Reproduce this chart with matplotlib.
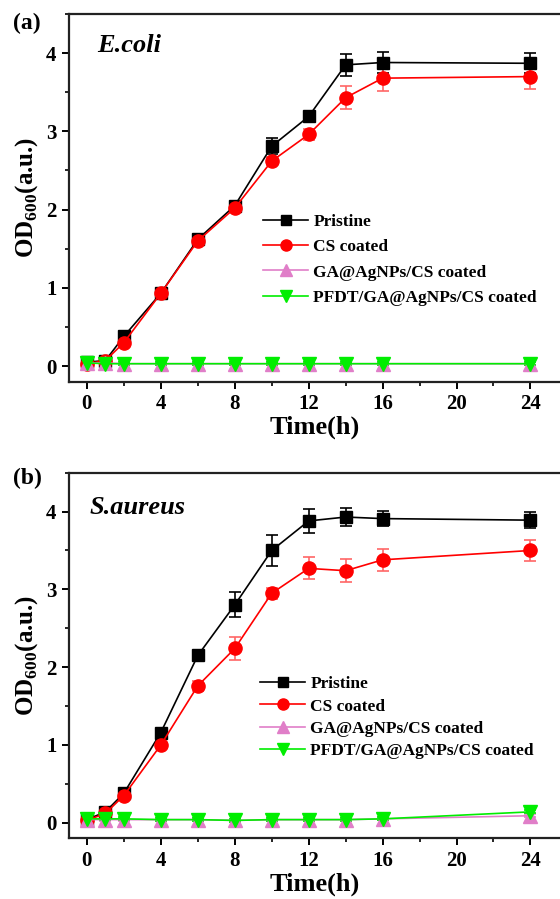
import matplotlib
matplotlib.use("Agg")
import matplotlib.pyplot as plt
from matplotlib.ticker import MultipleLocator
from matplotlib.lines import Line2D

plt.rcParams['font.family'] = ['Liberation Serif', 'DejaVu Serif']
plt.rcParams['font.weight'] = 'bold'
plt.rcParams['mathtext.fontset'] = 'custom'
plt.rcParams['mathtext.rm'] = 'Liberation Serif:bold'
plt.rcParams['mathtext.bf'] = 'Liberation Serif:bold'

time = [0, 1, 2, 4, 6, 8, 10, 12, 14, 16, 24]
labels = ["Pristine", "CS coated", "GA@AgNPs/CS coated", "PFDT/GA@AgNPs/CS coated"]

# Panel (a) E.coli
ecoli_pristine = [0.05, 0.07, 0.38, 0.93, 1.62, 2.05, 2.81, 3.19, 3.85, 3.88, 3.87]
ecoli_pristine_err = [0.03, 0.03, 0.04, 0.04, 0.05, 0.05, 0.10, 0.05, 0.14, 0.14, 0.13]
ecoli_cs = [0.03, 0.07, 0.30, 0.93, 1.60, 2.02, 2.62, 2.96, 3.43, 3.68, 3.70]
ecoli_cs_err = [0.02, 0.03, 0.04, 0.04, 0.05, 0.05, 0.05, 0.07, 0.15, 0.16, 0.16]
ecoli_ga = [0.04, 0.04, 0.03, 0.03, 0.03, 0.03, 0.03, 0.03, 0.03, 0.03, 0.03]
ecoli_ga_err = [0.02] * 11
ecoli_pfdt = [0.04, 0.03, 0.03, 0.03, 0.03, 0.03, 0.03, 0.03, 0.03, 0.03, 0.03]
ecoli_pfdt_err = [0.02] * 11

# Panel (b) S.aureus
saureus_pristine = [0.04, 0.14, 0.38, 1.16, 2.15, 2.80, 3.50, 3.88, 3.93, 3.91, 3.89]
saureus_pristine_err = [0.02, 0.03, 0.05, 0.04, 0.05, 0.16, 0.20, 0.15, 0.12, 0.10, 0.10]
saureus_cs = [0.03, 0.12, 0.35, 1.00, 1.76, 2.24, 2.95, 3.27, 3.24, 3.38, 3.50]
saureus_cs_err = [0.02, 0.03, 0.04, 0.04, 0.06, 0.15, 0.07, 0.14, 0.15, 0.14, 0.14]
saureus_ga = [0.04, 0.04, 0.04, 0.04, 0.04, 0.03, 0.04, 0.04, 0.04, 0.05, 0.09]
saureus_ga_err = [0.02] * 11
saureus_pfdt = [0.05, 0.05, 0.05, 0.04, 0.04, 0.03, 0.04, 0.04, 0.04, 0.05, 0.14]
saureus_pfdt_err = [0.02] * 11

fig = plt.figure(figsize=(5.6, 8.99), dpi=100)
W, H = 560, 899

def make_ax(top_px, bot_px):
    left = 69 / W
    right = 1.0
    return fig.add_axes([left, 1 - bot_px / H, right - left, (bot_px - top_px) / H])

axA = make_ax(14, 381.7)
axB = make_ax(472.7, 838.3)

styles = [
    dict(color='black', marker='s', ms=8, ecolor='black', lms=6.5),
    dict(color='#ff0000', marker='o', ms=9.5, ecolor='#ff6666', lms=8),
    dict(color='#e07ec8', marker='^', ms=10, ecolor='#e07ec8', lms=9),
    dict(color='#00ee00', marker='v', ms=10, ecolor='#00ee00', lms=9),
]

def draw(ax, series, errs, title, letter, letter_y, title_xy, leg_xy, lspacing):
    handles = []
    for y, e, st, lab in zip(series, errs, styles, labels):
        ax.errorbar(time, y, yerr=e, color=st['color'], marker=st['marker'],
                    ms=st['ms'], mfc=st['color'], mec=st['color'], ecolor=st['ecolor'],
                    elinewidth=1.2, capsize=4.5, capthick=1.2, lw=1.2)
        handles.append(Line2D([], [], color=st['color'], marker=st['marker'],
                              ms=st['lms'], mfc=st['color'], mec=st['color'], lw=1.2,
                              label=lab))
    ax.set_xlim(-0.97, 25.6)
    ax.set_ylim(-0.2, 4.5)
    ax.xaxis.set_major_locator(MultipleLocator(4))
    ax.xaxis.set_minor_locator(MultipleLocator(2))
    ax.yaxis.set_major_locator(MultipleLocator(1))
    ax.yaxis.set_minor_locator(MultipleLocator(0.5))
    ax.spines['right'].set_visible(False)
    for s in ['left', 'bottom', 'top']:
        ax.spines[s].set_linewidth(1.6)
        ax.spines[s].set_color('#222222')
    ax.tick_params(axis='both', which='major', direction='out', length=5, width=1.4,
                   labelsize=15, pad=4)
    ax.tick_params(axis='both', which='minor', direction='out', length=3, width=1.2)
    for lab in ax.get_xticklabels() + ax.get_yticklabels():
        lab.set_fontweight('bold')
    ax.set_xlabel('Time(h)', fontsize=19, fontweight='bold', labelpad=1)
    ax.set_ylabel(r'OD$_{600}$(a.u.)', fontsize=18, fontweight='bold', labelpad=4)
    fig.text(title_xy[0] / W, 1 - title_xy[1] / H, title,
             fontsize=19, fontweight='bold', style='italic', va='center', ha='left')
    fig.text(13 / W, 1 - letter_y / H, letter, fontsize=17, fontweight='bold',
             va='center', ha='left')
    ax.legend(handles=handles, loc='upper left', bbox_to_anchor=leg_xy,
              bbox_transform=fig.transFigure, frameon=False,
              prop=dict(weight='bold', size=12.5), handlelength=2.6,
              handletextpad=0.3, labelspacing=lspacing, borderpad=0, borderaxespad=0)

draw(axA, [ecoli_pristine, ecoli_cs, ecoli_ga, ecoli_pfdt],
     [ecoli_pristine_err, ecoli_cs_err, ecoli_ga_err, ecoli_pfdt_err],
     'E.coli', '(a)', 23, (97, 45), (263 / W, 1 - 214 / H), 0.52)
draw(axB, [saureus_pristine, saureus_cs, saureus_ga, saureus_pfdt],
     [saureus_pristine_err, saureus_cs_err, saureus_ga_err, saureus_pfdt_err],
     'S.aureus', '(b)', 478, (90, 507), (260 / W, 1 - 676 / H), 0.36)

fig.savefig('out.png', dpi=100)
